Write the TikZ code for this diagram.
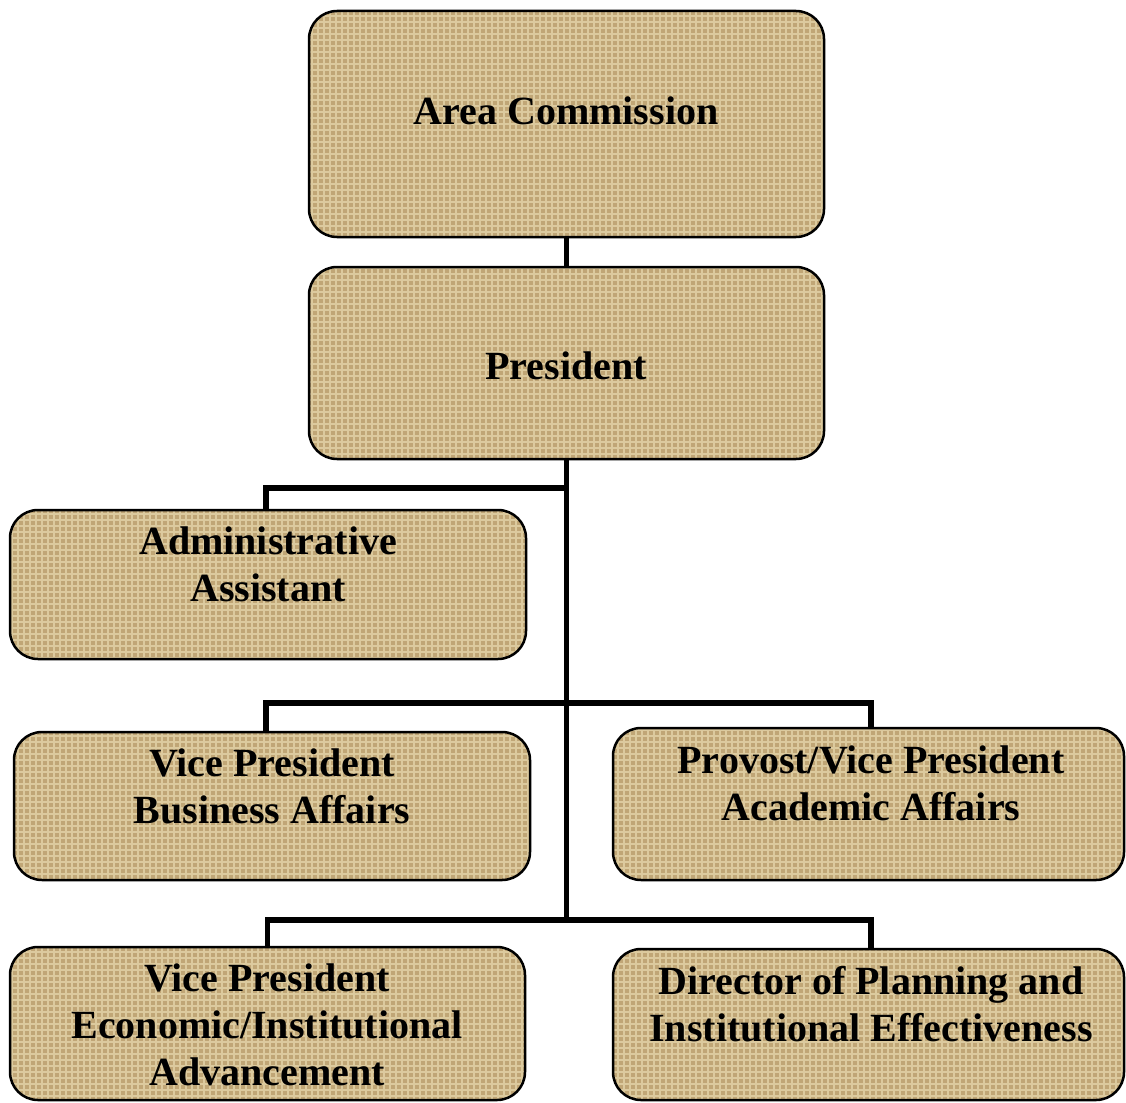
\documentclass[tikz,border=0pt]{standalone}
\usepackage{fontspec}
\setmainfont{Liberation Serif}
\usetikzlibrary{patterns.meta}
\definecolor{burlap}{RGB}{192,166,118}
\definecolor{burlaplight}{RGB}{220,202,158}

\begin{document}
\begin{tikzpicture}
[every node/.style={inner sep=0pt},
 box/.style={rectangle, rounded corners=28pt, preaction={fill=burlap},
   pattern={Hatch[distance=6pt, line width=1.3pt]}, pattern color=burlaplight,
   draw=black, line width=2.5pt},
 label text/.style={align=center, font=\bfseries\fontsize{40}{47}\selectfont, text=black},
 link/.style={line width=5.5pt, color=black}]
\useasboundingbox (0pt, 0pt) rectangle (1126pt, -1102pt);
% boxes
\node (area) [box, minimum width=515pt, minimum height=226pt] at (566.5pt, -124.0pt) {};
\node (pres) [box, minimum width=515pt, minimum height=192pt] at (566.5pt, -363.0pt) {};
\node (admin) [box, minimum width=516pt, minimum height=149pt] at (268.0pt, -584.5pt) {};
\node (vpb) [box, minimum width=516pt, minimum height=148pt] at (272.0pt, -806.0pt) {};
\node (prov) [box, minimum width=511pt, minimum height=152pt] at (868.5pt, -804.0pt) {};
\node (vpe) [box, minimum width=515pt, minimum height=153pt] at (267.5pt, -1023.5pt) {};
\node (dir) [box, minimum width=511pt, minimum height=151pt] at (868.5pt, -1024.5pt) {};
% labels
\node (area-t) [label text] at (566.0pt, -111.0pt) {Area Commission};
\node (pres-t) [label text] at (566.0pt, -366.0pt) {President};
\node (admin-t) [label text] at (268.0pt, -564.5pt) {Administrative\\Assistant};
\node (vpb-t) [label text] at (272.0pt, -786.5pt) {Vice President\\Business Affairs};
\node (prov-t) [label text] at (871.0pt, -783.5pt) {Provost/Vice President\\Academic Affairs};
\node (vpe-t) [label text] at (267.0pt, -1025.0pt) {Vice President\\Economic/Institutional\\Advancement};
\node (dir-t) [label text] at (871.0pt, -1004.0pt) {Director of Planning and\\Institutional Effectiveness};
% trunk
\coordinate (j1) at (566.5pt, -488.0pt);
\coordinate (j2) at (566.5pt, -703.0pt);
\coordinate (j3) at (566.5pt, -920.0pt);
\draw [link] (area) -- (pres);
\draw [link] (pres) -- (j3);
\draw [link] ([xshift=-2pt]admin.north) |- (j1);
\draw [link] ([xshift=-6pt]vpb.north) |- (j2) -| ([xshift=2.5pt]prov.north);
\draw [link] (vpe.north) |- (j3) -| ([xshift=2.5pt]dir.north);
\end{tikzpicture}
\end{document}
